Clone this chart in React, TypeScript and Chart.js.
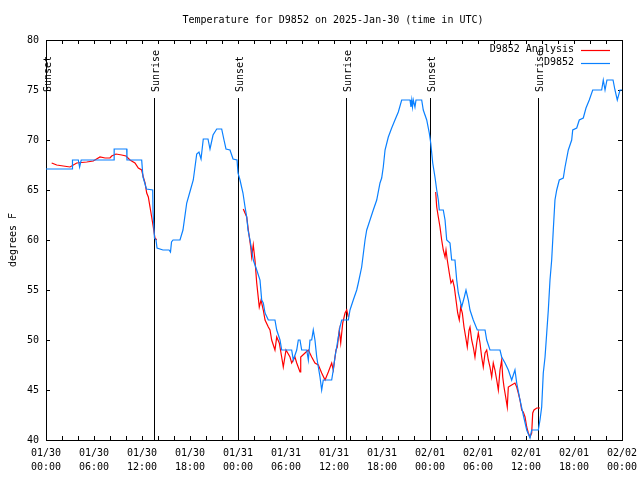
import React, { useEffect, useRef } from "react";
import { Chart, registerables } from "chart.js";

Chart.register(...registerables);

// Hours since 2025-01-30 00:00 UTC
const obsHours = [
  0, 3.29, 3.31, 4.04, 4.2, 4.4, 8.5, 8.52, 10.09, 10.12, 11.96, 12.12, 12.38, 12.56, 13.34, 13.38, 13.56, 13.75, 13.88,
  14.62, 15.38, 15.56, 15.69, 15.88, 16.75, 17.12, 17.59, 18.09, 18.41, 18.84, 19.12, 19.38, 19.66, 20.25, 20.5, 20.88,
  21.34, 21.96, 22.25, 22.5, 23.0, 23.38, 23.88, 24.0, 24.25, 24.62, 24.88, 25.09, 25.25, 25.5, 25.71, 25.91, 26.34,
  26.75, 26.96, 27.16, 27.38, 27.79, 28.62, 28.84, 29.25, 29.46, 30.71, 30.91, 31.34, 31.54, 31.75, 31.96, 32.59, 32.79,
  33.0, 33.21, 33.41, 33.62, 33.84, 34.04, 34.25, 34.46, 34.66, 35.71, 35.91, 36.12, 36.34, 36.54, 36.75, 36.96, 37.79,
  38.0, 38.41, 38.84, 39.04, 39.46, 39.88, 40.09, 40.5, 40.91, 41.34, 41.75, 41.96, 42.16, 42.38, 42.79, 43.21, 43.62,
  44.04, 44.46, 45.5, 45.62, 45.72, 45.81, 45.91, 46.12, 46.25, 46.5, 46.96, 47.16, 47.59, 47.91, 48.09, 48.34, 48.62,
  48.84, 49.04, 49.16, 49.66, 49.88, 50.09, 50.5, 50.71, 51.12, 51.34, 51.54, 51.75, 51.96, 52.29, 52.5, 52.79, 53.0,
  53.41, 53.91, 54.88, 55.09, 55.5, 56.75, 56.96, 57.38, 57.79, 58.21, 58.62, 58.84, 59.25, 59.66, 60.09, 60.5, 60.71,
  61.54, 61.75, 61.96, 62.16, 62.38, 62.59, 62.79, 63.0, 63.21, 63.41, 63.62, 63.84, 64.16, 64.66, 64.88, 65.29, 65.71,
  65.84, 66.34, 66.66, 67.16, 67.5, 67.91, 68.34, 69.46, 69.66, 69.88, 70.12, 70.88, 71.12, 71.41, 71.75, 72.0,
];
const obsTemps = [
  67.1, 67.1, 68.0, 68.0, 67.3, 68.0, 68.0, 69.1, 69.1, 68.0, 68.0, 66.3, 65.6, 65.1, 65.0, 62.8, 60.2, 60.0, 59.2,
  59.0, 59.0, 58.8, 59.8, 60.0, 60.0, 61.0, 63.7, 65.1, 66.0, 68.6, 68.8, 68.1, 70.1, 70.1, 69.1, 70.5,
  71.1, 71.1, 70.0, 69.1, 69.0, 68.1, 68.0, 66.7, 66.0, 64.7, 63.3, 62.3, 61.0, 60.0, 59.0, 58.0, 57.0,
  56.0, 54.0, 53.7, 52.7, 52.0, 52.0, 51.0, 50.0, 49.0, 49.0, 48.0, 49.0, 50.0, 50.0, 49.0, 49.0, 48.0,
  50.0, 50.0, 51.0, 50.0, 48.3, 47.3, 46.3, 45.0, 46.0, 46.0, 47.0, 48.3, 49.3, 50.3, 51.3, 52.0, 52.0,
  53.0, 54.0, 55.0, 55.7, 57.3, 60.0, 61.0, 62.0, 63.0, 64.0, 65.7, 66.2, 67.3, 69.0, 70.3, 71.2, 72.0,
  72.8, 74.0, 74.0, 73.3, 74.0, 73.3, 74.0, 73.3, 74.0, 74.0, 74.0, 73.0, 72.0, 70.7, 69.7, 67.7, 66.3,
  65.0, 64.0, 63.0, 63.0, 62.0, 60.0, 59.7, 58.0, 58.0, 56.0, 54.7, 54.0, 53.3, 54.3, 55.0, 54.0, 53.0,
  52.0, 51.0, 51.0, 50.0, 49.0, 49.0, 48.3, 47.7, 47.0, 46.0, 47.0, 45.7, 44.0, 42.5, 41.0, 40.2, 41.0,
  41.0, 42.0, 43.3, 46.7, 48.3, 50.7, 53.0, 56.0, 58.0, 61.0, 64.0, 65.0, 66.0, 66.2, 67.3, 69.0, 70.0,
  71.0, 71.2, 72.0, 72.2, 73.2, 74.0, 75.0, 75.0, 76.0, 75.0, 76.0, 76.0, 75.0, 74.0, 75.0, 75.0,
];

// null marks a gap in the analysis series
const anaHours = [
  0.71, 1.34, 2.16, 3.0, 3.84, 5.09, 5.91, 6.75, 7.38, 8.0, 8.21, 8.75, 9.46, 10.0, 10.5, 11.12, 11.54, 11.96, 12.16,
  12.38, 12.59, 12.79, 13.0, 13.21, 13.41, 13.62, 13.84, 19.0,
  24.66, 25.09, 25.29, 25.59, 25.71, 25.91, 26.12, 26.34, 26.66, 26.88, 27.16, 27.38, 27.79, 28.0, 28.21, 28.62, 28.84,
  29.16, 29.46, 29.66, 30.0, 30.5, 30.71, 31.12, 31.34, 31.75, 31.84, 32.38, 32.79, 33.21, 33.62, 34.04, 34.46, 34.88,
  35.29, 35.71, 35.91, 36.25, 36.41, 36.66, 36.84, 37.09, 37.38, 37.59, 37.79, 43.0,
  48.71, 48.84, 49.04, 49.25, 49.46, 49.66, 49.88, 50.0, 50.16, 50.41, 50.62, 50.84, 51.04, 51.25, 51.46, 51.66, 51.84,
  52.04, 52.25, 52.46, 52.66, 52.88, 53.0, 53.21, 53.41, 53.62, 53.84, 54.04, 54.25, 54.46, 54.66, 54.88, 55.09, 55.29,
  55.5, 55.71, 55.91, 56.12, 56.34, 56.54, 56.75, 56.96, 57.09, 57.25, 57.46, 57.66, 57.79, 58.21, 58.62, 58.84, 59.04,
  59.25, 59.46, 59.66, 59.88, 60.09, 60.29, 60.5, 60.71, 60.84, 61.0, 61.34, 61.75,
];
const anaTemps: (number | null)[] = [
  67.7, 67.5, 67.4, 67.3, 67.7, 67.8, 67.9, 68.3, 68.2, 68.2, 68.4, 68.6, 68.5, 68.4, 68.0, 67.7, 67.2, 67.0, 66.3,
  65.7, 64.7, 64.3, 63.3, 62.3, 61.3, 60.2, 60.0, null,
  63.1, 62.3, 61.0, 59.3, 58.3, 59.5, 58.0, 55.7, 53.3, 54.0, 53.0, 52.0, 51.3, 51.0, 50.0, 49.0, 50.3,
  49.7, 48.3, 47.3, 49.0, 48.3, 47.7, 48.3, 47.7, 46.8, 48.3, 48.7, 49.0, 48.3, 47.7, 47.5, 46.7, 46.0,
  46.8, 47.7, 47.0, 49.0, 49.3, 51.0, 49.7, 51.7, 52.7, 53.0, 52.3, null,
  64.8, 63.3, 62.3, 61.3, 60.0, 59.0, 58.3, 59.0, 58.0, 56.7, 55.7, 56.0, 55.3, 54.0, 52.7, 52.0, 53.3,
  52.7, 51.3, 50.3, 49.3, 51.0, 51.3, 50.0, 49.3, 48.3, 49.7, 50.7, 49.7, 48.3, 47.3, 48.7, 49.0, 48.0,
  47.3, 46.3, 47.7, 47.0, 46.0, 45.0, 47.0, 48.0, 46.3, 45.3, 44.3, 43.3, 45.3, 45.5, 45.7, 45.3, 44.7,
  44.0, 43.0, 42.8, 42.3, 41.3, 40.7, 40.3, 40.7, 42.7, 43.0, 43.2, 43.2,
];

const sunHours = [0, 13.5, 24, 37.5, 48, 61.5];
const sunLabels = ["Sunset", "Sunrise", "Sunset", "Sunrise", "Sunset", "Sunrise"];

const xTickDates = ["01/30", "01/30", "01/30", "01/30", "01/31", "01/31", "01/31", "01/31", "02/01", "02/01", "02/01", "02/01", "02/02"];
const xTickTimes = ["00:00", "06:00", "12:00", "18:00", "00:00", "06:00", "12:00", "18:00", "00:00", "06:00", "12:00", "18:00", "00:00"];

const titleText = "Temperature for D9852 on 2025-Jan-30 (time in UTC)";
const yTitle = "degrees F";
const seriesNames = ["D9852 Analysis", "D9852"];
const seriesColors = ["#ff0000", "#0a80ff"];

const FONT = "10px 'DejaVu Sans Mono', monospace";

const overlay = {
  id: "gnuplotDecor",
  beforeDatasetsDraw(chart: any) {
    const ctx = chart.ctx;
    const { left, right, top, bottom } = chart.chartArea;
    const xs = chart.scales.x;
    const ys = chart.scales.y;
    ctx.save();
    ctx.strokeStyle = "#000";
    ctx.lineWidth = 1;
    // ticks
    ctx.beginPath();
    for (let h = 0; h <= 72; h += 2) {
      const px = Math.round(xs.getPixelForValue(h)) + 0.5;
      ctx.moveTo(px, bottom);
      ctx.lineTo(px, bottom - 4);
      ctx.moveTo(px, top);
      ctx.lineTo(px, top + 4);
    }
    for (let v = 40; v <= 80; v += 5) {
      const py = Math.round(ys.getPixelForValue(v)) + 0.5;
      ctx.moveTo(left, py);
      ctx.lineTo(left + 4, py);
      ctx.moveTo(right, py);
      ctx.lineTo(right - 4, py);
    }
    ctx.stroke();
    // frame
    ctx.strokeRect(Math.round(left) + 0.5, Math.round(top) + 0.5, Math.round(right - left), Math.round(bottom - top));
    // sun lines
    ctx.font = FONT;
    ctx.fillStyle = "#000";
    sunHours.forEach((h, i) => {
      const px = Math.round(xs.getPixelForValue(h)) + 0.5;
      ctx.beginPath();
      ctx.moveTo(px, 98);
      ctx.lineTo(px, bottom);
      ctx.stroke();
      ctx.save();
      ctx.translate(px + 1.5, 92);
      ctx.rotate(-Math.PI / 2);
      ctx.textAlign = "left";
      ctx.textBaseline = "middle";
      ctx.fillText(sunLabels[i], 0, 0);
      ctx.restore();
    });
    ctx.restore();
  },
  afterDraw(chart: any) {
    const ctx = chart.ctx;
    ctx.save();
    ctx.font = FONT;
    ctx.fillStyle = "#000";
    ctx.textBaseline = "middle";
    ctx.textAlign = "center";
    ctx.fillText(titleText, 333, 20);
    ctx.save();
    ctx.translate(13, 240);
    ctx.rotate(-Math.PI / 2);
    ctx.fillText(yTitle, 0, 0);
    ctx.restore();
    // legend
    const rows = [49.5, 62.5];
    seriesNames.forEach((name, i) => {
      ctx.textAlign = "right";
      ctx.fillStyle = "#000";
      ctx.fillText(name, 574, rows[i]);
      ctx.strokeStyle = seriesColors[i];
      ctx.lineWidth = 1.2;
      ctx.beginPath();
      ctx.moveTo(581, Math.round(rows[i]) + 0.5);
      ctx.lineTo(610, Math.round(rows[i]) + 0.5);
      ctx.stroke();
    });
    ctx.restore();
  },
};

export default function App() {
  const ref = useRef<HTMLCanvasElement | null>(null);
  useEffect(() => {
    if (!ref.current) return;
    const obsData = obsHours.map((h, i) => ({ x: h, y: obsTemps[i] }));
    const anaData = anaHours.map((h, i) => ({ x: h, y: anaTemps[i] }));
    const tickFont = { family: "'DejaVu Sans Mono', monospace", size: 10, lineHeight: 1.45 };
    const chart = new Chart(ref.current, {
      type: "line",
      data: {
        datasets: [
          {
            label: seriesNames[0],
            data: anaData as any,
            borderColor: seriesColors[0],
            borderWidth: 1.2,
            pointRadius: 0,
            spanGaps: false,
            order: 1,
          },
          {
            label: seriesNames[1],
            data: obsData as any,
            borderColor: seriesColors[1],
            borderWidth: 1.2,
            pointRadius: 0,
            order: 0,
          },
        ],
      },
      options: {
        responsive: false,
        animation: false,
        devicePixelRatio: 1,
        layout: { padding: { top: 40, right: 18, left: 0, bottom: 0 } },
        plugins: { legend: { display: false }, title: { display: false }, tooltip: { enabled: false } },
        scales: {
          x: {
            type: "linear",
            min: 0,
            max: 72,
            afterBuildTicks: (s: any) => {
              s.ticks = xTickDates.map((_, i) => ({ value: i * 6 }));
            },
            afterFit: (s: any) => {
              s.height = 40;
              s.paddingRight = 0;
              s.paddingLeft = 0;
            },
            grid: { display: false, drawTicks: false },
            border: { display: false },
            ticks: {
              autoSkip: false,
              maxRotation: 0,
              minRotation: 0,
              padding: 6,
              color: "#000",
              font: tickFont,
              callback: (v: any) => {
                const i = Math.round(Number(v) / 6);
                return [xTickDates[i], xTickTimes[i]];
              },
            },
          },
          y: {
            min: 40,
            max: 80,
            afterFit: (s: any) => {
              s.width = 46;
            },
            grid: { display: false, drawTicks: false },
            border: { display: false },
            ticks: { stepSize: 5, padding: 7, color: "#000", font: { family: "'DejaVu Sans Mono', monospace", size: 10 } },
          },
        },
      },
      plugins: [overlay],
    });
    return () => chart.destroy();
  }, []);
  return (
    <div style={{ position: "fixed", left: 0, top: 0, width: 640, height: 480, background: "#fff" }}>
      <canvas ref={ref} width={640} height={480} style={{ width: 640, height: 480 }} />
    </div>
  );
}
